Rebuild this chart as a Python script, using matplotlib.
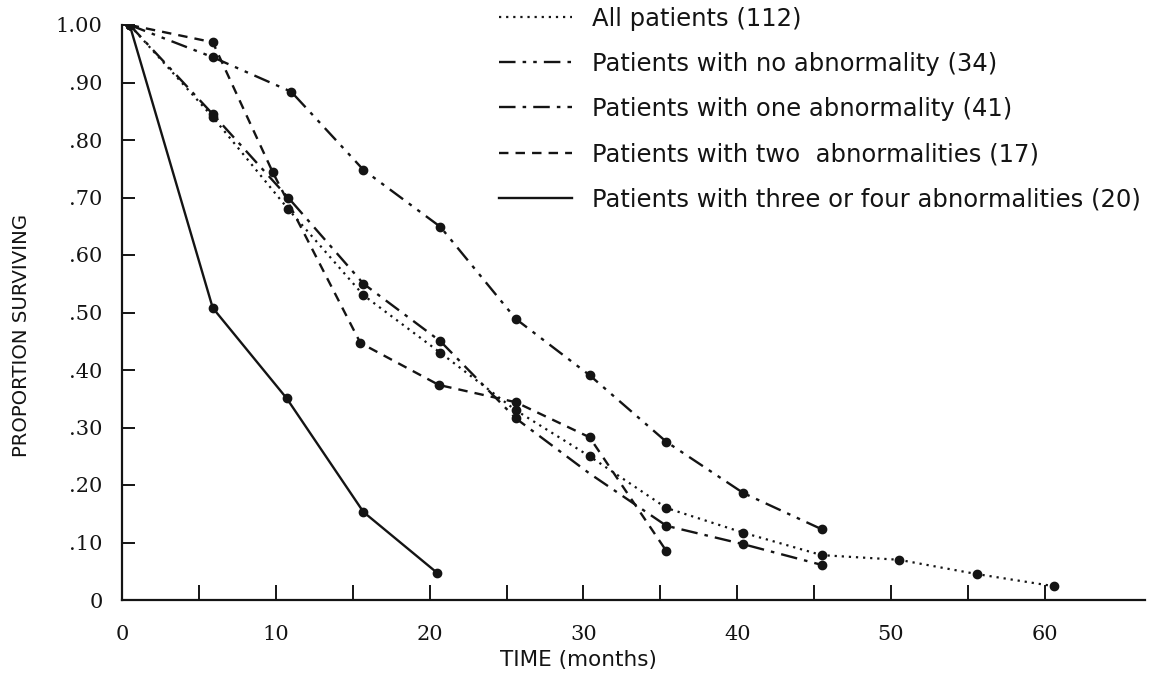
import matplotlib
matplotlib.use("Agg")
import matplotlib.pyplot as plt
from matplotlib.ticker import FixedLocator

# ---- data ----
all_months = [0.5, 5.9, 10.8, 15.7, 20.7, 25.6, 30.4, 35.4, 40.4, 45.5, 50.5, 55.6, 60.6]
all_surv = [1.00, 0.84, 0.68, 0.53, 0.43, 0.33, 0.25, 0.16, 0.117, 0.078, 0.070, 0.045, 0.024]

none_months = [0.5, 5.9, 11.0, 15.7, 20.7, 25.6, 30.4, 35.4, 40.4, 45.5]
none_surv = [1.00, 0.944, 0.884, 0.748, 0.649, 0.489, 0.391, 0.275, 0.186, 0.123]

one_months = [0.5, 5.9, 10.8, 15.7, 20.7, 25.6, 30.4, 35.4, 40.4, 45.5]
one_surv = [1.00, 0.845, 0.70, 0.55, 0.45, 0.316, 0.22, 0.129, 0.097, 0.061]

two_months = [0.5, 5.9, 9.8, 15.5, 20.6, 25.6, 30.4, 35.4]
two_surv = [1.00, 0.970, 0.744, 0.447, 0.374, 0.344, 0.283, 0.085]

three_months = [0.5, 5.9, 10.7, 15.7, 20.5]
three_surv = [1.00, 0.508, 0.351, 0.153, 0.047]

labels = [
    "All patients (112)",
    "Patients with no abnormality (34)",
    "Patients with one abnormality (41)",
    "Patients with two  abnormalities (17)",
    "Patients with three or four abnormalities (20)",
]

x_ticks = [0, 10, 20, 30, 40, 50, 60]
x_minor_ticks = [5, 15, 25, 35, 45, 55]
y_ticks = [0, 0.1, 0.2, 0.3, 0.4, 0.5, 0.6, 0.7, 0.8, 0.9, 1.0]
y_tick_labels = ["0", ".10", ".20", ".30", ".40", ".50", ".60", ".70", ".80", ".90", "1.00"]

# ---- figure ----
W, H = 1156, 677
fig = plt.figure(figsize=(W / 100, H / 100), dpi=100)
ax = fig.add_axes([122 / W, 1 - 600 / H, (1145 - 122) / W, (600 - 25) / H])

ink = "#141414"
lw = 1.7
ms = 6

styles = [
    dict(linestyle=(0, (1, 2.2)), lw=1.6),
    dict(linestyle=(0, (7, 3, 1.5, 3, 1.5, 3)), lw=lw),
    dict(linestyle=(0, (7, 3, 1.5, 3)), lw=lw),
    dict(linestyle=(0, (4, 3)), lw=lw),
    dict(linestyle="-", lw=lw),
]
series = [
    (all_months, all_surv, None),
    (none_months, none_surv, None),
    (one_months, one_surv, [0, 1, 2, 3, 4, 5, 7, 8, 9]),
    (two_months, two_surv, None),
    (three_months, three_surv, None),
]
handles = []
for (mx, sv, mev), st, lab in zip(series, styles, labels):
    ax.plot(mx, sv, color=ink, marker="o", markersize=ms, markevery=mev,
            markeredgecolor=ink, markerfacecolor=ink, **st)
    h, = ax.plot([], [], color=ink, **st)
    h.set_label(lab)
    handles.append(h)

ax.set_xlim(0, (1145 - 122) / 15.38)
ax.set_ylim(0, 1.0)

for s in ["top", "right"]:
    ax.spines[s].set_visible(False)
for s in ["left", "bottom"]:
    ax.spines[s].set_color(ink)
    ax.spines[s].set_linewidth(1.6)

ax.xaxis.set_major_locator(FixedLocator(x_ticks))
ax.xaxis.set_minor_locator(FixedLocator(x_minor_ticks))
ax.set_yticks(y_ticks)
ax.set_yticklabels(y_tick_labels)

ax.tick_params(axis="both", which="both", direction="in", color=ink,
               labelcolor=ink, width=1.4)
ax.tick_params(axis="x", which="major", length=11, pad=18)
ax.tick_params(axis="x", which="minor", length=11)
ax.tick_params(axis="y", which="major", length=9, pad=14)
for t in ax.get_xticklabels() + ax.get_yticklabels():
    t.set_fontfamily("DejaVu Serif")
    t.set_fontsize(15)

ax.set_xlabel("TIME (months)", fontsize=15.5, color=ink,
              family="DejaVu Sans", va="center")
ax.xaxis.set_label_coords((578 - 122) / (1145 - 122), -(660 - 600) / (600 - 25))

fig.text(22 / W, 1 - 335 / H, "PROPORTION SURVIVING", rotation=90,
         ha="center", va="center", fontsize=14.2, color=ink,
         family=["Liberation Sans Narrow", "DejaVu Sans"])

fig.legend(handles=handles, loc="upper left",
           bbox_to_anchor=(484 / W, 1 + 8 / H), frameon=False,
           fontsize=17.5, handlelength=3.0, handletextpad=0.85,
           labelspacing=0.87, labelcolor=ink, borderaxespad=0.2)

fig.savefig("out.png", dpi=100, facecolor="white")
